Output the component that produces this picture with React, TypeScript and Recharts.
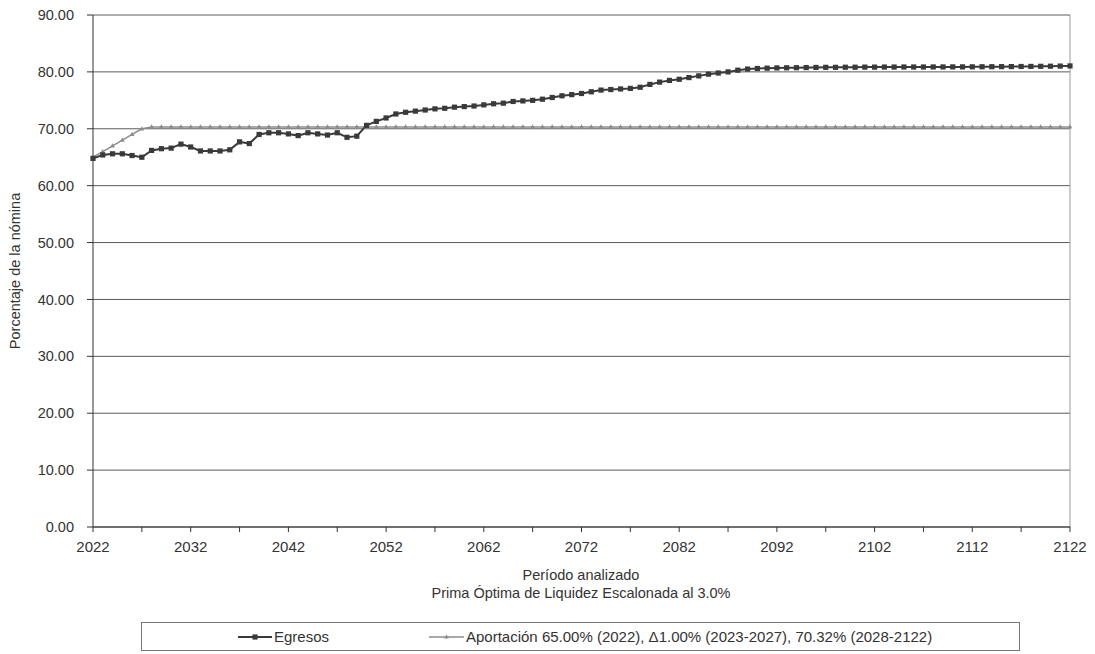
import React from "react";
import { LineChart, Line, XAxis, YAxis, CartesianGrid, ReferenceLine } from "recharts";

// años 2022-2122
const firstYear = 2022;
const lastYear = 2122;

const egresos = [
  64.8, 65.4, 65.6, 65.6, 65.3, 65.0, 66.2, 66.5, 66.6, 67.3,
  66.8, 66.1, 66.1, 66.1, 66.3, 67.7, 67.4, 69.0, 69.3, 69.3,
  69.1, 68.8, 69.3, 69.1, 68.9, 69.3, 68.5, 68.7, 70.6, 71.3,
  71.9, 72.6, 72.9, 73.1, 73.3, 73.5, 73.6, 73.8, 73.9, 74.0,
  74.2, 74.4, 74.5, 74.8, 74.9, 75.0, 75.2, 75.5, 75.8, 76.0,
  76.2, 76.5, 76.8, 76.9, 77.0, 77.1, 77.3, 77.8, 78.2, 78.5,
  78.7, 79.0, 79.3, 79.6, 79.8, 80.0, 80.3, 80.5, 80.6, 80.65,
  80.7, 80.72, 80.74, 80.76, 80.78, 80.8, 80.8, 80.82, 80.82, 80.84,
  80.84, 80.85, 80.85, 80.86, 80.86, 80.86, 80.87, 80.87, 80.88, 80.88,
  80.89, 80.9, 80.91, 80.92, 80.93, 80.95, 80.96, 80.98, 81.0, 81.02,
  81.05,
];

const aportacion = [
  65.0, 66.0, 67.0, 68.0, 69.0, 70.0, 70.32, 70.32, 70.32, 70.32,
  70.32, 70.32, 70.32, 70.32, 70.32, 70.32, 70.32, 70.32, 70.32, 70.32,
  70.32, 70.32, 70.32, 70.32, 70.32, 70.32, 70.32, 70.32, 70.32, 70.32,
  70.32, 70.32, 70.32, 70.32, 70.32, 70.32, 70.32, 70.32, 70.32, 70.32,
  70.32, 70.32, 70.32, 70.32, 70.32, 70.32, 70.32, 70.32, 70.32, 70.32,
  70.32, 70.32, 70.32, 70.32, 70.32, 70.32, 70.32, 70.32, 70.32, 70.32,
  70.32, 70.32, 70.32, 70.32, 70.32, 70.32, 70.32, 70.32, 70.32, 70.32,
  70.32, 70.32, 70.32, 70.32, 70.32, 70.32, 70.32, 70.32, 70.32, 70.32,
  70.32, 70.32, 70.32, 70.32, 70.32, 70.32, 70.32, 70.32, 70.32, 70.32,
  70.32, 70.32, 70.32, 70.32, 70.32, 70.32, 70.32, 70.32, 70.32, 70.32,
  70.32,
];

const xTicks = [
  2022, 2027, 2032, 2037, 2042, 2047, 2052, 2057, 2062, 2067, 2072,
  2077, 2082, 2087, 2092, 2097, 2102, 2107, 2112, 2117, 2122,
];
const yTicks = [0, 10, 20, 30, 40, 50, 60, 70, 80, 90];

const data = egresos.map((v, i) => ({
  year: firstYear + i,
  egresos: v,
  aportacion: aportacion[i],
}));

const font = "'Liberation Sans', Arial, sans-serif";
const dark = "#3a3a3a";
const gray = "#8c8c8c";

const SquareDot = (p: any) => (
  <rect key={`sq-${p.index}`} x={p.cx - 2.6} y={p.cy - 2.6} width={5.2} height={5.2} fill={dark} />
);

const TriDot = (p: any) => (
  <path
    key={`tr-${p.index}`}
    d={`M${p.cx},${p.cy - 2.6} L${p.cx + 2.4},${p.cy + 1.6} L${p.cx - 2.4},${p.cy + 1.6} Z`}
    fill={gray}
  />
);

export default function App() {
  return (
    <div style={{ position: "absolute", left: 0, top: 0, width: 1095, height: 654, background: "#fff", fontFamily: font }}>
      <LineChart width={1095} height={654} data={data} margin={{ top: 15, right: 25, left: 0, bottom: 97 }}>
        <CartesianGrid vertical={false} stroke="#5a5a5a" strokeWidth={1} />
        <ReferenceLine x={lastYear} stroke="#9a9a9a" />
        <XAxis
          dataKey="year"
          type="number"
          domain={[firstYear, lastYear]}
          ticks={xTicks}
          interval={0}
          tickFormatter={(v: number) => ((v - firstYear) % 10 === 0 ? String(v) : "")}
          tick={{ fill: "#333", fontSize: 15, fontFamily: font }}
          tickSize={5}
          tickMargin={9}
          stroke="#333"
          height={30}
          label={{
            content: () => (
              <g fontFamily={font} fontSize={14.5} fill="#333" textAnchor="middle">
                <text x={581} y={580}>Período analizado</text>
                <text x={581} y={598}>Prima Óptima de Liquidez Escalonada al 3.0%</text>
              </g>
            ),
          }}
        />
        <YAxis
          type="number"
          domain={[0, 90]}
          ticks={yTicks}
          interval={0}
          width={93}
          tickFormatter={(v: number) => v.toFixed(2)}
          tick={{ fill: "#333", fontSize: 14.5, fontFamily: font }}
          tickSize={6}
          tickMargin={13}
          stroke="#333"
          label={{
            content: () => (
              <text
                x={20}
                y={271}
                transform="rotate(-90 20 271)"
                textAnchor="middle"
                fontFamily={font}
                fontSize={14.5}
                fill="#333"
              >
                Porcentaje de la nómina
              </text>
            ),
          }}
        />
        <Line
          dataKey="aportacion"
          stroke={gray}
          strokeWidth={1.5}
          dot={TriDot}
          activeDot={false}
          isAnimationActive={false}
        />
        <Line
          dataKey="egresos"
          stroke={dark}
          strokeWidth={2}
          dot={SquareDot}
          activeDot={false}
          isAnimationActive={false}
        />
      </LineChart>
      <div
        style={{
          position: "absolute",
          left: 141,
          top: 622,
          width: 877,
          height: 27,
          border: "1px solid #777",
          color: "#333",
        }}
      >
        <svg width={877} height={27} style={{ position: "absolute", left: 0, top: 0 }}>
          <line x1={96} x2={130} y1={14} y2={14} stroke={dark} strokeWidth={2} />
          <rect x={110.4} y={11.4} width={5.2} height={5.2} fill={dark} />
          <text x={132} y={19} fontFamily={font} fontSize={15} fill="#333">Egresos</text>
          <line x1={287} x2={322} y1={14} y2={14} stroke={gray} strokeWidth={1.5} />
          <path d="M304.5,11.4 L306.9,15.6 L302.1,15.6 Z" fill={gray} />
          <text x={324} y={19} fontFamily={font} fontSize={15} fill="#333">
            Aportación 65.00% (2022), Δ1.00% (2023-2027), 70.32% (2028-2122)
          </text>
        </svg>
      </div>
    </div>
  );
}
